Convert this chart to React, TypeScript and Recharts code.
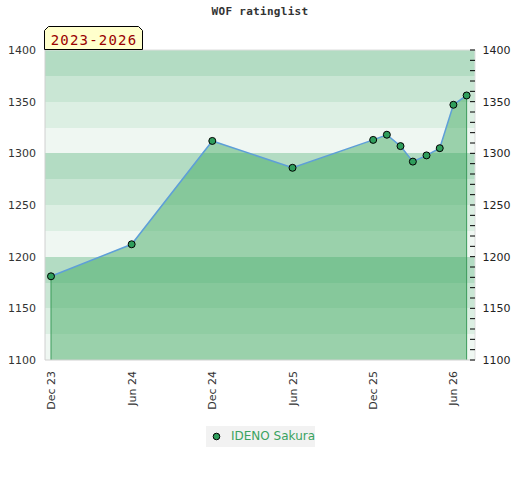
import {
  Area,
  CartesianGrid,
  ComposedChart,
  Line,
  ReferenceLine,
  XAxis,
  YAxis,
} from "recharts";

const months = [
  "2023-12", "2024-06", "2024-12", "2025-06", "2025-12", "2026-01",
  "2026-02", "2026-03", "2026-04", "2026-05", "2026-06", "2026-07",
];
const ratings = [1181, 1212, 1312, 1286, 1313, 1318, 1307, 1292, 1298, 1305, 1347, 1356];

const tickMonths = ["2023-12", "2024-06", "2024-12", "2025-06", "2025-12", "2026-06"];
const tickLabels = ["Dec 23", "Jun 24", "Dec 24", "Jun 25", "Dec 25", "Jun 26"];

// left axis ticks every 25 (bands), labelled every 50
const bandTicks = [1100, 1125, 1150, 1175, 1200, 1225, 1250, 1275, 1300, 1325, 1350, 1375, 1400];
const minorTicks = Array.from({ length: 31 }, (_, i) => 1100 + i * 10);

const bandColors = ["#b3dcc3", "#c9e6d4", "#dcefe3", "#eff7f2"];

const toDay = (ym: string) => {
  const [y, m] = ym.split("-").map(Number);
  return Date.UTC(y, m - 1, 1) / 86400000;
};

const data = months.map((m, i) => ({ t: toDay(m), rating: ratings[i] }));
const xTicks = tickMonths.map(toDay);
const xDomain = [toDay(months[0]) - 13.6, toDay(months[months.length - 1]) + 19];

const first = data[0];
const last = data[data.length - 1];

function DateTick({ x, y, payload }: any) {
  const label = tickLabels[xTicks.indexOf(payload.value)] ?? "";
  return (
    <g transform={`translate(${x},${y})`}>
      <text
        transform="rotate(-90)"
        x={-11}
        y={4}
        textAnchor="end"
        fontSize={11}
        fontFamily="DejaVu Sans"
        fill="#333"
      >
        {label}
      </text>
    </g>
  );
}

function LeftTick({ x, y, payload }: any) {
  if (payload.value % 50 !== 0) return <g />;
  return (
    <text x={x} y={y} dy="0.355em" textAnchor="end" fontSize={11} fontFamily="DejaVu Sans" fill="#333">
      {payload.value}
    </text>
  );
}

function RightTick({ x, y, payload }: any) {
  const major = payload.value % 50 === 0;
  return (
    <g>
      <line x1={x - 5} x2={x} y1={y} y2={y} stroke="#000" strokeWidth={1} />
      {major && (
        <text x={x + 7.5} y={y} dy="0.355em" fontSize={11} fontFamily="DejaVu Sans" fill="#222">
          {payload.value}
        </text>
      )}
    </g>
  );
}

export default function App() {
  return (
    <div style={{ position: "relative", width: 520, height: 480, background: "#fff" }}>
      <style>{"body{margin:0}"}</style>
      <ComposedChart
        width={520}
        height={480}
        data={data}
        margin={{ top: 50, right: 0, bottom: 0, left: 0 }}
      >
        <CartesianGrid
          yAxisId="left"
          vertical={false}
          stroke="none"
          horizontalFill={bandColors}
        />
        <XAxis
          dataKey="t"
          type="number"
          domain={xDomain}
          ticks={xTicks}
          interval={0}
          allowDataOverflow
          height={120}
          tickSize={0}
          tickMargin={0}
          tick={<DateTick />}
          axisLine={{ stroke: "#d0d0d0" }}
        />
        <YAxis
          yAxisId="left"
          type="number"
          domain={[1100, 1400]}
          ticks={bandTicks}
          interval={0}
          width={45}
          tickSize={0}
          tickMargin={9}
          tickLine={false}
          tick={<LeftTick />}
          axisLine={{ stroke: "#d0d0d0" }}
        />
        <YAxis
          yAxisId="right"
          orientation="right"
          type="number"
          domain={[1100, 1400]}
          ticks={minorTicks}
          interval={0}
          width={45}
          tickSize={0}
          tickMargin={0}
          tickLine={false}
          tick={<RightTick />}
          axisLine={{ stroke: "#dddddd" }}
        />
        <ReferenceLine yAxisId="left" y={1400} stroke="#dddddd" />
        <Area
          yAxisId="right"
          type="linear"
          dataKey="rating"
          baseValue={1100}
          stroke="none"
          fill="rgb(60,168,94)"
          fillOpacity={0.48}
          isAnimationActive={false}
        />
        <ReferenceLine
          yAxisId="left"
          segment={[{ x: first.t, y: 1100 }, { x: first.t, y: first.rating }]}
          stroke="#3a9a5a"
        />
        <ReferenceLine
          yAxisId="left"
          segment={[{ x: last.t, y: 1100 }, { x: last.t, y: last.rating }]}
          stroke="#3a9a5a"
        />
        <Line
          yAxisId="left"
          type="linear"
          dataKey="rating"
          stroke="#5e9fd8"
          strokeWidth={1.5}
          dot={{ r: 3.5, fill: "#2f9e5c", stroke: "#000", strokeWidth: 1 }}
          activeDot={false}
          isAnimationActive={false}
        />
      </ComposedChart>

      {/* title */}
      <div
        style={{
          position: "absolute",
          left: 0,
          top: 5,
          width: 520,
          textAlign: "center",
          fontFamily: "DejaVu Sans Mono",
          fontWeight: "bold",
          fontSize: 11,
          letterSpacing: 0.3,
          color: "#333",
        }}
      >
        WOF ratinglist
      </div>

      {/* year tab */}
      <svg style={{ position: "absolute", left: 0, top: 0 }} width={160} height={52}>
        <polygon
          points="44.5,49.5 44.5,30.5 48.5,26.5 138.5,26.5 142.5,30.5 142.5,49.5"
          fill="#ffffcc"
          stroke="#000"
          strokeWidth={1}
        />
        <text
          x={94}
          y={44.5}
          textAnchor="middle"
          fontFamily="DejaVu Sans Mono"
          fontSize={14}
          letterSpacing={1.2}
          fill="#990000"
        >
          2023-2026
        </text>
      </svg>

      {/* legend */}
      <div
        style={{
          position: "absolute",
          left: 206,
          top: 426,
          width: 109,
          height: 21,
          background: "#f2f2f2",
          fontFamily: "DejaVu Sans",
          fontSize: 12,
          color: "#3aa35f",
          whiteSpace: "nowrap",
        }}
      >
        <svg style={{ position: "absolute", left: 6, top: 6 }} width={9} height={9}>
          <circle cx={4.5} cy={4.5} r={3.3} fill="#2f9e5c" stroke="#000" strokeWidth={1} />
        </svg>
        <span style={{ position: "absolute", left: 25, top: 3 }}>IDENO Sakura</span>
      </div>
    </div>
  );
}
